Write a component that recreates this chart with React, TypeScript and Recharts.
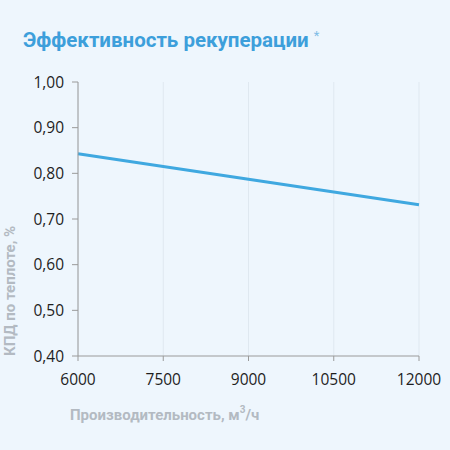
import { CartesianGrid, Line, LineChart, XAxis, YAxis } from "recharts"

const flows = [6000, 7500, 9000, 10500, 12000]
const efficiency = [0.843, 0.815, 0.787, 0.759, 0.731]
const yTicks = [0.4, 0.5, 0.6, 0.7, 0.8, 0.9, 1.0]

const data = flows.map((flow, i) => ({ flow, value: efficiency[i] }))

const tickStyle = { fill: "#1e1e1e", fontSize: 15.5, fontFamily: "Open Sans, Arial, sans-serif" }
const labelFont = "Roboto, Arial, sans-serif"

export default function App() {
  return (
    <div
      style={{
        position: "fixed",
        left: 0,
        top: 0,
        width: 450,
        height: 450,
        background: "#eef6fd",
        overflow: "hidden",
      }}
    >
      <div
        style={{
          position: "absolute",
          left: 23,
          top: 28,
          fontFamily: labelFont,
          fontWeight: 700,
          fontSize: 20.5,
          color: "#3d9fdb",
          whiteSpace: "nowrap",
        }}
      >
        Эффективность рекуперации{" "}
        <span style={{ fontSize: 13, fontWeight: 400, verticalAlign: "top", color: "#7fbde6" }}>*</span>
      </div>
      <LineChart width={450} height={450} data={data} margin={{ top: 82, right: 31, left: 0, bottom: 0 }}>
        <CartesianGrid horizontal={false} stroke="#dfe8f0" strokeWidth={1} />
        <XAxis
          dataKey="flow"
          type="number"
          domain={[6000, 12000]}
          ticks={flows}
          height={94}
          stroke="#9a9a9a"
          tickSize={5}
          tickMargin={13}
          tick={tickStyle}
          label={(props: any) => {
            const vb = props.viewBox
            return (
              <text
                x={70}
                y={vb.y + 64}
                fill="#b3bac2"
                fontFamily={labelFont}
                fontWeight={700}
                fontSize={15}
                textAnchor="start"
              >
                Производительность, м
                <tspan fontSize={10} dy={-7}>3</tspan>
                <tspan dy={7}>/ч</tspan>
              </text>
            )
          }}
        />
        <YAxis
          type="number"
          domain={[0.4, 1.0]}
          ticks={yTicks}
          width={78}
          stroke="#9a9a9a"
          tickSize={6}
          tickMargin={8}
          tick={tickStyle}
          tickFormatter={(v: number) => v.toFixed(2).replace(".", ",")}
          label={(props: any) => {
            const vb = props.viewBox
            const x = 15
            const y = vb.y + vb.height
            return (
              <text
                x={x}
                y={y}
                transform={`rotate(-90 ${x} ${y})`}
                fill="#b3bac2"
                fontFamily={labelFont}
                fontWeight={700}
                fontSize={15}
                textAnchor="start"
              >
                КПД по теплоте, %
              </text>
            )
          }}
        />
        <Line
          type="linear"
          dataKey="value"
          stroke="#3fa8e0"
          strokeWidth={3}
          dot={false}
          isAnimationActive={false}
        />
      </LineChart>
    </div>
  )
}
